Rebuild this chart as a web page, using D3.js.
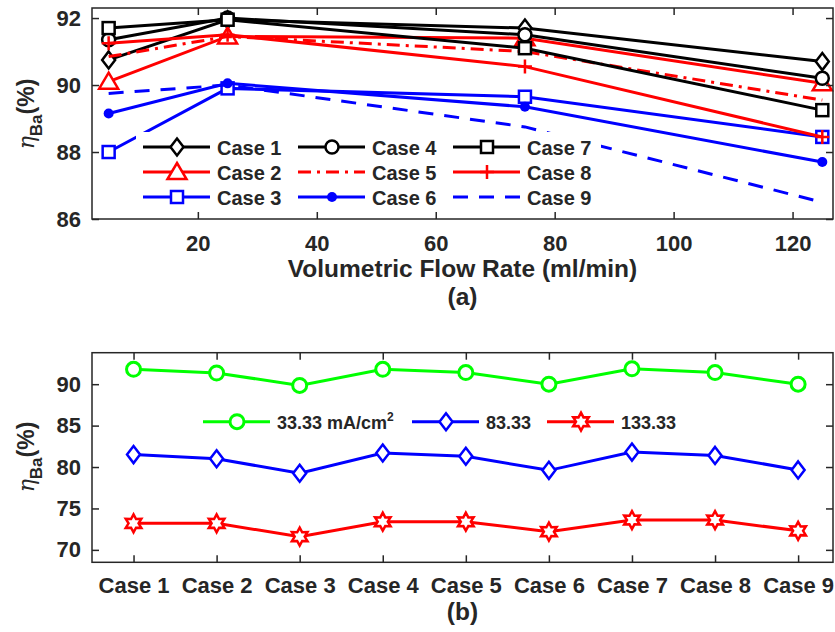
<!DOCTYPE html>
<html>
<head>
<meta charset="utf-8">
<script src="https://cdnjs.cloudflare.com/ajax/libs/d3/7.8.5/d3.min.js"></script>
<style>
  body { margin: 0; background: #ffffff; }
  text { font-family: "Liberation Sans", Arial, sans-serif; font-weight: bold; fill: #262626; }
</style>
</head>
<body>
<script>

// (a) efficiency against volumetric flow rate, one list per case
var flow_rates = [5, 25, 75, 125];
var case_names = ["Case 1", "Case 2", "Case 3", "Case 4", "Case 5", "Case 6", "Case 7", "Case 8", "Case 9"];
var case1 = [90.75, 91.95, 91.7, 90.7];
var case2 = [90.1, 91.45, 91.4, 90.05];
var case3 = [88.0, 89.9, 89.65, 88.45];
var case4 = [91.35, 92.0, 91.5, 90.2];
var case5 = [90.85, 91.45, 91.0, 89.55];
var case6 = [89.15, 90.05, 89.35, 87.7];
var case7 = [91.7, 91.95, 91.1, 89.25];
var case8 = [91.25, 91.5, 90.55, 88.45];
var case9 = [89.75, 90.0, 88.75, 86.5];
var flow_ticks = [20, 40, 60, 80, 100, 120];
var eff_ticks_a = [86, 88, 90, 92];

// (b) efficiency per case for three current densities
var case_numbers = [1, 2, 3, 4, 5, 6, 7, 8, 9];
var eff_33 = [91.8, 91.35, 89.85, 91.8, 91.4, 90.0, 91.85, 91.4, 90.0];
var eff_83 = [81.5, 81.0, 79.25, 81.7, 81.3, 79.6, 81.8, 81.4, 79.65];
var eff_133 = [73.2, 73.2, 71.6, 73.4, 73.4, 72.2, 73.6, 73.6, 72.3];
var density_names = ["33.33 mA/cm", "83.33", "133.33"];
var eff_ticks_b = [70, 75, 80, 85, 90];

var width = 835;
var height = 632;
var ink = "#262626";

var svg = d3.select("body")
    .append("svg")
    .attr("width", width)
    .attr("height", height);

// look of every case: colour, dash and marker
var case_styles = [
  {color: "#000000", dash: null, marker: "diamond"},
  {color: "#ff0000", dash: null, marker: "triangle"},
  {color: "#0000ff", dash: null, marker: "square"},
  {color: "#000000", dash: null, marker: "circle"},
  {color: "#ff0000", dash: "13,6,3,6", marker: "none"},
  {color: "#0000ff", dash: null, marker: "dot"},
  {color: "#000000", dash: null, marker: "square"},
  {color: "#ff0000", dash: null, marker: "plus"},
  {color: "#0000ff", dash: "15,11", marker: "none"}
];

/*
 * draws one marker centred on x, y
 */
function draw_marker(g, type, x, y, color){
  if (type == "diamond"){
    g.append("path")
      .attr("d", "M" + x + "," + (y - 8.5) + "L" + (x + 6.5) + "," + y + "L" + x + "," + (y + 8.5) + "L" + (x - 6.5) + "," + y + "Z")
      .attr("fill", "#ffffff").attr("stroke", color).attr("stroke-width", 2.5);
  }
  else if (type == "triangle"){
    g.append("path")
      .attr("d", "M" + x + "," + (y - 9) + "L" + (x + 9.5) + "," + (y + 7) + "L" + (x - 9.5) + "," + (y + 7) + "Z")
      .attr("fill", "#ffffff").attr("stroke", color).attr("stroke-width", 2.5);
  }
  else if (type == "square"){
    g.append("rect")
      .attr("x", x - 6).attr("y", y - 6).attr("width", 12).attr("height", 12)
      .attr("fill", "#ffffff").attr("stroke", color).attr("stroke-width", 2.5);
  }
  else if (type == "circle"){
    g.append("circle")
      .attr("cx", x).attr("cy", y).attr("r", 6.5)
      .attr("fill", "#ffffff").attr("stroke", color).attr("stroke-width", 2.5);
  }
  else if (type == "bigcircle"){
    g.append("circle")
      .attr("cx", x).attr("cy", y).attr("r", 7)
      .attr("fill", "#ffffff").attr("stroke", color).attr("stroke-width", 3);
  }
  else if (type == "dot"){
    g.append("circle")
      .attr("cx", x).attr("cy", y).attr("r", 5)
      .attr("fill", color);
  }
  else if (type == "plus"){
    g.append("path")
      .attr("d", "M" + (x - 7) + "," + y + "H" + (x + 7) + "M" + x + "," + (y - 7) + "V" + (y + 7))
      .attr("stroke", color).attr("stroke-width", 2.5);
  }
  else if (type == "hexagram"){
    var pts = [];
    for (var i = 0; i < 12; i++){
      var r = (i % 2 == 0) ? 9 : 5;
      var a = Math.PI / 6 * i - Math.PI / 2;
      pts.push([x + r * Math.cos(a), y + r * Math.sin(a)]);
    }
    g.append("path")
      .attr("d", "M" + pts.join("L") + "Z")
      .attr("fill", "#ffffff").attr("stroke", color).attr("stroke-width", 2.5);
  }
}

/*
 * box, inward ticks on all four sides and tick labels
 */
function draw_frame(x_scale, y_scale, x_ticks, x_format, y_ticks, x_pad){
  var left = x_scale.range()[0], right = x_scale.range()[1];
  var bottom = y_scale.range()[0], top = y_scale.range()[1];

  var bottom_axis = d3.axisBottom(x_scale).tickValues(x_ticks).tickFormat(x_format)
      .tickSizeInner(-7).tickSizeOuter(0).tickPadding(x_pad);
  var top_axis = d3.axisTop(x_scale).tickValues(x_ticks).tickFormat("")
      .tickSizeInner(-7).tickSizeOuter(0);
  var left_axis = d3.axisLeft(y_scale).tickValues(y_ticks).tickFormat(d3.format("d"))
      .tickSizeInner(-7).tickSizeOuter(0).tickPadding(11);
  var right_axis = d3.axisRight(y_scale).tickValues(y_ticks).tickFormat("")
      .tickSizeInner(-7).tickSizeOuter(0);

  var axes = [
    [bottom_axis, "translate(0," + bottom + ")"],
    [top_axis, "translate(0," + top + ")"],
    [left_axis, "translate(" + left + ",0)"],
    [right_axis, "translate(" + right + ",0)"]
  ];
  axes.forEach(function(a){
    var g = svg.append("g").attr("transform", a[1]).call(a[0]);
    g.select(".domain").remove();
    g.selectAll("line").attr("stroke", ink).attr("stroke-width", 1.5);
    g.selectAll("text").attr("font-size", 22).attr("font-family", null).attr("fill", ink);
  });

  svg.append("rect")
    .attr("x", left).attr("y", top)
    .attr("width", right - left).attr("height", bottom - top)
    .attr("fill", "none").attr("stroke", ink).attr("stroke-width", 1.5);
}

/*
 * rotated eta_Ba(%) label
 */
function y_label(x, y){
  var t = svg.append("text")
    .attr("transform", "translate(" + x + "," + y + ") rotate(-90)")
    .attr("text-anchor", "middle");
  t.append("tspan").text("\u03b7")
    .style("font-family", "'DejaVu Serif', serif").style("font-style", "italic")
    .style("font-weight", "normal").attr("font-size", 22);
  t.append("tspan").text("Ba").attr("font-size", 17).attr("dy", 8);
  t.append("tspan").text("(%)").attr("font-size", 23).attr("dy", -8);
}

// ---------- chart (a) ----------
var xa = d3.scaleLinear().domain([2.2, 126.8]).range([92, 833]);
var ya = d3.scaleLinear().domain([86, 92.3]).range([219, 8]);

var all_cases = [case1, case2, case3, case4, case5, case6, case7, case8, case9];

var line_a = d3.line()
    .x(function(d, i) { return xa(flow_rates[i]); })
    .y(function(d) { return ya(d); });

var plot_a = svg.append("g");

all_cases.forEach(function(values, k){
  var s = case_styles[k];
  plot_a.append("path")
    .attr("d", line_a(values))
    .attr("fill", "none")
    .attr("stroke", s.color)
    .attr("stroke-width", 3)
    .attr("stroke-dasharray", s.dash);
  values.forEach(function(v, i){
    draw_marker(plot_a, s.marker, xa(flow_rates[i]), ya(v), s.color);
  });
});

// legend of (a), three columns filled top to bottom, white background
svg.append("rect")
  .attr("x", 136).attr("y", 132).attr("width", 465).attr("height", 78)
  .attr("fill", "#ffffff");

case_names.forEach(function(name, k){
  var col = Math.floor(k / 3), row = k % 3;
  var x0 = 143 + col * 155, ly = 147 + row * 25;
  var s = case_styles[k];
  svg.append("line")
    .attr("x1", x0).attr("x2", x0 + 67).attr("y1", ly).attr("y2", ly)
    .attr("stroke", s.color).attr("stroke-width", 3)
    .attr("stroke-dasharray", s.dash);
  draw_marker(svg, s.marker, x0 + 34, ly, s.color);
  svg.append("text")
    .attr("x", x0 + 74).attr("y", ly + 8)
    .attr("font-size", 20)
    .text(name);
});

draw_frame(xa, ya, flow_ticks, d3.format("d"), eff_ticks_a, 16);
y_label(34, 114);

svg.append("text")
  .attr("x", 462.5).attr("y", 277)
  .attr("text-anchor", "middle").attr("font-size", 24.5)
  .text("Volumetric Flow Rate (ml/min)");
svg.append("text")
  .attr("x", 462.5).attr("y", 305)
  .attr("text-anchor", "middle").attr("font-size", 24.5)
  .text("(a)");

// ---------- chart (b) ----------
var xb = d3.scaleLinear().domain([0.5, 9.42]).range([92, 833]);
var yb = d3.scaleLinear().domain([68.5, 93.8]).range([562.3, 352.7]);

var density_series = [eff_33, eff_83, eff_133];
var density_styles = [
  {color: "#00ff00", marker: "bigcircle"},
  {color: "#0000ff", marker: "diamond"},
  {color: "#ff0000", marker: "hexagram"}
];

var line_b = d3.line()
    .x(function(d, i) { return xb(case_numbers[i]); })
    .y(function(d) { return yb(d); });

density_series.forEach(function(values, k){
  var s = density_styles[k];
  svg.append("path")
    .attr("d", line_b(values))
    .attr("fill", "none")
    .attr("stroke", s.color)
    .attr("stroke-width", 3);
  values.forEach(function(v, i){
    draw_marker(svg, s.marker, xb(case_numbers[i]), yb(v), s.color);
  });
});

// legend of (b), one row
var legend_b_x = [203, 412, 547];
density_names.forEach(function(name, k){
  var x0 = legend_b_x[k], ly = 421.7;
  var s = density_styles[k];
  svg.append("line")
    .attr("x1", x0).attr("x2", x0 + 67).attr("y1", ly).attr("y2", ly)
    .attr("stroke", s.color).attr("stroke-width", 3);
  draw_marker(svg, s.marker, x0 + 34, ly, s.color);
  var t = svg.append("text")
    .attr("x", x0 + 74).attr("y", ly + 7)
    .attr("font-size", 18)
    .text(name);
  // square centimetres for the first entry
  if (k == 0){
    t.append("tspan").text("2").attr("font-size", 12).attr("dy", -8);
  }
});

draw_frame(xb, yb, case_numbers, function(d) { return "Case " + d; }, eff_ticks_b, 15);
y_label(34, 457);

svg.append("text")
  .attr("x", 462.5).attr("y", 620)
  .attr("text-anchor", "middle").attr("font-size", 24.5)
  .text("(b)");

</script>
</body>
</html>
